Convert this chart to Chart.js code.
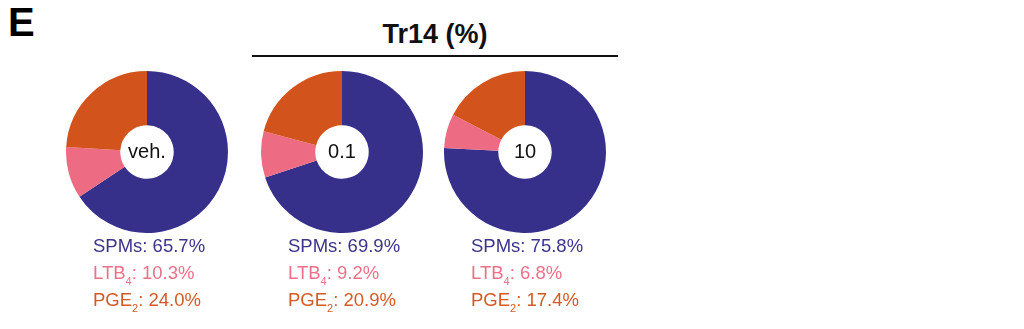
<!DOCTYPE html>
<html>
<head>
<meta charset="utf-8">
<script src="https://cdn.jsdelivr.net/npm/chart.js@4.4.0/dist/chart.umd.min.js"></script>
<style>
  body { margin: 0; background: #fff; }
  #wrap { position: relative; width: 1024px; height: 329px; overflow: hidden; background: #fff;
          font-family: "Liberation Sans", Arial, sans-serif; }
  #panel { position: absolute; left: 8px; top: 2px; font-family: "Liberation Sans Narrow", "Liberation Sans", sans-serif;
           font-weight: bold; font-size: 40px; line-height: 40px; color: #000; }
  #title { position: absolute; left: 252px; width: 366px; top: 14px; text-align: center;
           font-weight: bold; font-size: 27px; line-height: 40px; color: #111; }
  #rule { position: absolute; left: 252px; width: 366px; top: 55px; height: 2px; background: #111; }
  .pie { position: absolute; top: 71px; }
  .lbl { position: absolute; top: 232px; font-size: 18.5px; line-height: 27px; white-space: nowrap; }
  .lbl sub { font-size: 11px; line-height: 0; vertical-align: -6px; }
</style>
</head>
<body>
<div id="wrap">
  <div id="panel">E</div>
  <div id="title">Tr14 (%)</div>
  <div id="rule"></div>
</div>
<script>
// groups (centre labels) and percentages per mediator
const groups = ['veh.', '0.1', '10'];
const spms = [65.7, 69.9, 75.8];
const ltb4 = [10.3, 9.2, 6.8];
const pge2 = [24.0, 20.9, 17.4];
const categories = ['SPMs', 'LTB4', 'PGE2'];

const colors = ['#37308b', '#ee6b84', '#d3531c'];
const textColors = ['#3b3589', '#ee6f88', '#d35a24'];
const centersX = [147, 342, 525];
const size = 162;

const wrap = document.getElementById('wrap');

const centerText = {
  id: 'centerText',
  afterDraw(chart, args, opts) {
    const { ctx } = chart;
    const meta = chart.getDatasetMeta(0).data[0];
    ctx.save();
    ctx.font = '20px "Liberation Sans", Arial, sans-serif';
    ctx.fillStyle = '#111';
    ctx.textAlign = 'center';
    ctx.textBaseline = 'middle';
    ctx.fillText(opts.text, meta.x, meta.y);
    ctx.restore();
  }
};

groups.forEach((g, i) => {
  const canvas = document.createElement('canvas');
  canvas.className = 'pie';
  canvas.width = size;
  canvas.height = size;
  canvas.style.left = (centersX[i] - size / 2) + 'px';
  wrap.appendChild(canvas);

  new Chart(canvas.getContext('2d'), {
    type: 'doughnut',
    data: {
      labels: categories,
      datasets: [{
        data: [spms[i], ltb4[i], pge2[i]],
        backgroundColor: colors,
        borderWidth: 0
      }]
    },
    options: {
      responsive: false,
      animation: false,
      cutout: '33%',
      layout: { padding: 0 },
      plugins: {
        legend: { display: false },
        tooltip: { enabled: false },
        centerText: { text: g }
      }
    },
    plugins: [centerText]
  });

  const lbl = document.createElement('div');
  lbl.className = 'lbl';
  lbl.style.left = (centersX[i] - 54) + 'px';
  lbl.innerHTML =
    '<div style="color:' + textColors[0] + '">SPMs: ' + spms[i].toFixed(1) + '%</div>' +
    '<div style="color:' + textColors[1] + '">LTB<sub>4</sub>: ' + ltb4[i].toFixed(1) + '%</div>' +
    '<div style="color:' + textColors[2] + '">PGE<sub>2</sub>: ' + pge2[i].toFixed(1) + '%</div>';
  wrap.appendChild(lbl);
});
</script>
</body>
</html>
